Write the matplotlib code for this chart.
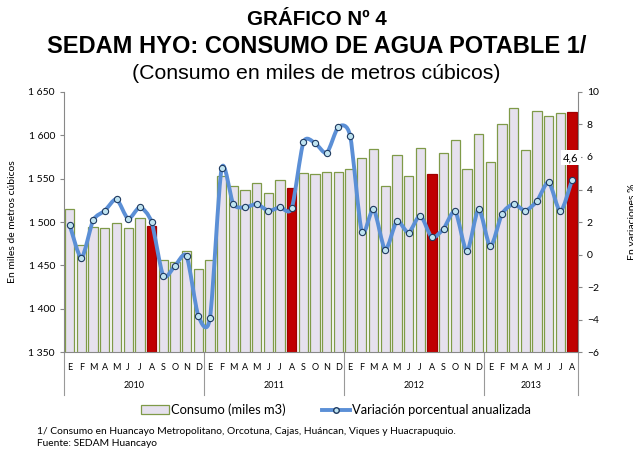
import numpy as np
import matplotlib
matplotlib.use('Agg')
import matplotlib.pyplot as plt
from matplotlib.path import Path
from matplotlib.patches import PathPatch, Patch
from matplotlib.lines import Line2D
from matplotlib.ticker import FuncFormatter

# Consumo mensual (miles m3), ene-2010 a ago-2013
consumo = [1515, 1474, 1494, 1493, 1499, 1493, 1505, 1496, 1456, 1454, 1467, 1446,
           1456, 1553, 1541, 1537, 1545, 1533, 1548, 1539, 1556, 1555, 1558, 1558,
           1561, 1574, 1584, 1541, 1577, 1553, 1585, 1555, 1580, 1595, 1561, 1602,
           1569, 1613, 1632, 1583, 1628, 1622, 1626, 1627]
# Variacion porcentual anualizada
variacion = [1.8, -0.2, 2.1, 2.7, 3.4, 2.2, 2.9, 2.0, -1.3, -0.7, -0.1, -3.75,
             -3.9, 5.3, 3.1, 2.9, 3.1, 2.7, 2.9, 2.85, 6.9, 6.85, 6.25, 7.85,
             7.3, 1.4, 2.8, 0.3, 2.05, 1.35, 2.4, 1.05, 1.6, 2.65, 0.2, 2.8,
             0.5, 2.5, 3.1, 2.7, 3.3, 4.45, 2.65, 4.6]
meses = ['E', 'F', 'M', 'A', 'M', 'J', 'J', 'A', 'S', 'O', 'N', 'D']
anios = ['2010', '2011', '2012', '2013']

small = 'Lato'
big = 'Liberation Sans'

fig = plt.figure(figsize=(6.33, 4.55), dpi=100)
ax = fig.add_axes([0.101, 0.226, 0.812, 0.572])

n = len(consumo)
x = np.arange(n)
colores = ['#C00000' if i % 12 == 7 else '#E6E1EE' for i in range(n)]
bordes = ['#A00000' if i % 12 == 7 else '#7F9A48' for i in range(n)]
ax.bar(x, consumo, width=0.8, color=colores, edgecolor=bordes, linewidth=0.9, zorder=2)
ax.set_ylim(1350, 1650)
ax.set_xlim(-0.5, n - 0.5)
ax.set_yticks(np.arange(1350, 1651, 50))
ax.yaxis.set_major_formatter(FuncFormatter(lambda v, p: '{:,.0f}'.format(v).replace(',', ' ')))
ax.set_xticks(x)
ax.set_xticklabels([meses[i % 12] for i in range(n)], fontsize=6.5, family=small)
ax.tick_params(axis='x', length=0, pad=8)
ax.tick_params(axis='y', labelsize=7.5, length=3, color='#888888')
for t in ax.get_yticklabels():
    t.set_family(small)
for s in ['top', 'right']:
    ax.spines[s].set_visible(False)
for s in ['left', 'bottom']:
    ax.spines[s].set_color('#888888')
ax.set_ylabel('En miles de metros cúbicos', fontsize=7.5, family=small, labelpad=8)

# separadores y etiquetas de anios
trans = ax.get_xaxis_transform()
for k in range(len(anios) + 1):
    xs = min(k * 12, n) - 0.5
    ax.add_line(Line2D([xs, xs], [0, -0.165], transform=trans, color='#999999',
                       linewidth=0.8, clip_on=False))
for k, a in enumerate(anios):
    x0 = k * 12 - 0.5
    x1 = min(k * 12 + 12, n) - 0.5
    ax.text((x0 + x1) / 2, -0.128, a, transform=trans, ha='center', va='center',
            fontsize=6.5, family=small)

ax2 = ax.twinx()
ax2.set_ylim(-6, 10)
ax2.set_yticks(np.arange(-6, 11, 2))
ax2.tick_params(axis='y', labelsize=7.5, length=3, color='#888888')
for t in ax2.get_yticklabels():
    t.set_family(small)
for s in ['top', 'left', 'bottom']:
    ax2.spines[s].set_visible(False)
ax2.spines['right'].set_color('#888888')
ax2.set_ylabel('En variaciones %', fontsize=7.5, family=small, labelpad=21)

# linea suavizada (bezier tipo Excel)
pts = np.column_stack([x, variacion])
verts = [pts[0]]
codes = [Path.MOVETO]
for i in range(n - 1):
    p0 = pts[max(i - 1, 0)]
    p1 = pts[i]
    p2 = pts[i + 1]
    p3 = pts[min(i + 2, n - 1)]
    verts += [p1 + (p2 - p0) / 8, p2 - (p3 - p1) / 8, p2]
    codes += [Path.CURVE4] * 3
ax2.add_patch(PathPatch(Path(verts, codes), facecolor='none', edgecolor='#5B8FD6',
                        linewidth=2.8, capstyle='round', joinstyle='round', zorder=3))
ax2.plot(x, variacion, linestyle='none', marker='o', markersize=4.5,
         markerfacecolor='#BFE3F0', markeredgecolor='#1F3A60', markeredgewidth=0.8, zorder=4)
ax2.annotate('4,6', (x[-1], variacion[-1]), xytext=(-1, 12), textcoords='offset points',
             ha='center', va='bottom', fontsize=8, family=small,
             bbox=dict(boxstyle='square,pad=0.2', facecolor='white', edgecolor='none'))

# titulos
fig.text(0.5, 0.958, 'GRÁFICO Nº 4', ha='center', va='center', fontsize=14.8,
         fontweight='bold', family=big)
fig.text(0.5, 0.897, 'SEDAM HYO: CONSUMO DE AGUA POTABLE 1/', ha='center', va='center',
         fontsize=17, fontweight='bold', family=big)
fig.text(0.5, 0.838, '(Consumo en miles de metros cúbicos)', ha='center', va='center',
         fontsize=15.3, family=big)

handles = [Patch(facecolor='#E6E1EE', edgecolor='#7F9A48', linewidth=0.9),
           Line2D([], [], color='#5B8FD6', linewidth=2.8, marker='o', markersize=4,
                  markerfacecolor='#BFE3F0', markeredgecolor='#1F3A60')]
fig.legend(handles, ['Consumo (miles m3)', 'Variación porcentual anualizada'],
           loc='center', bbox_to_anchor=(0.531, 0.099), ncol=2, frameon=False,
           prop={'family': small, 'size': 9.3}, handlelength=2.2, columnspacing=2.8,
           handletextpad=0.15)

fig.text(0.058, 0.051, '1/ Consumo en Huancayo Metropolitano, Orcotuna, Cajas, Huáncan, Viques y Huacrapuquio.',
         fontsize=7.4, family=small, va='center')
fig.text(0.058, 0.026, 'Fuente: SEDAM Huancayo', fontsize=7.4, family=small, va='center')

fig.savefig('out.png', dpi=100)
